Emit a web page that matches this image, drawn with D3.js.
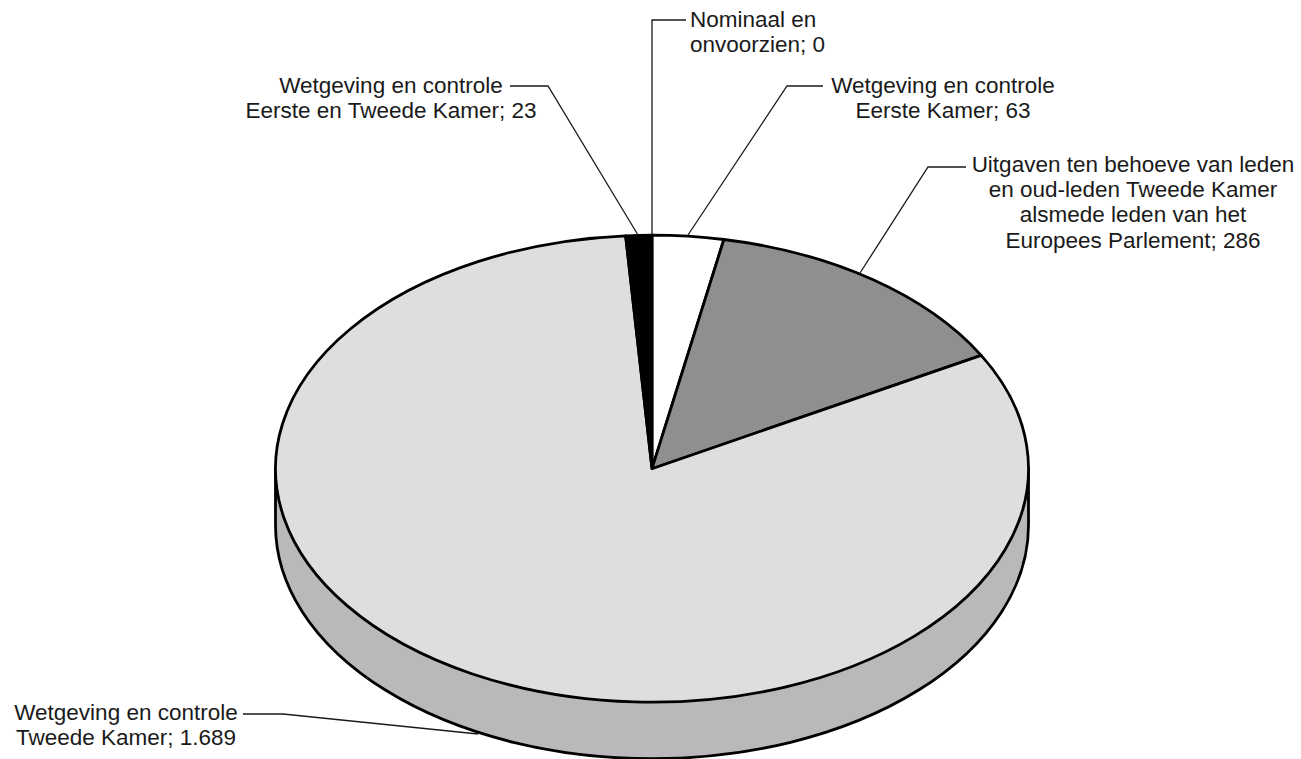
<!DOCTYPE html>
<html>
<head>
<meta charset="utf-8">
<script src="https://cdn.jsdelivr.net/npm/d3@7"></script>
<style>
html, body { margin: 0; padding: 0; background: #fff; }
svg { display: block; }
text { font-family: "Liberation Sans", Arial, sans-serif; font-size: 22.5px; fill: #1a1a1a; }
</style>
</head>
<body>
<div class="content"></div>
<script>
var categories = [
    'Nominaal en onvoorzien',
    'Wetgeving en controle Eerste Kamer',
    'Uitgaven ten behoeve van leden en oud-leden Tweede Kamer alsmede leden van het Europees Parlement',
    'Wetgeving en controle Tweede Kamer',
    'Wetgeving en controle Eerste en Tweede Kamer'
];
var values = [0, 63, 286, 1689, 23];
var labelLines = [
    ['Nominaal en', 'onvoorzien; 0'],
    ['Wetgeving en controle', 'Eerste Kamer; 63'],
    ['Uitgaven ten behoeve van leden', 'en oud-leden Tweede Kamer', 'alsmede leden van het', 'Europees Parlement; 286'],
    ['Wetgeving en controle', 'Tweede Kamer; 1.689'],
    ['Wetgeving en controle', 'Eerste en Tweede Kamer; 23']
];
var sliceColors = ['#ffffff', '#ffffff', '#8e8f91', '#dedee0', '#000000'];

// label placement and leader lines, by hand from the picture
var labelX = [690, 943, 1133, 126, 391];
var labelY = [27, 93, 172, 720, 93];
var labelAnchor = ['start', 'middle', 'middle', 'middle', 'middle'];
var leaders = [
    [[652, 235], [652, 20], [686, 20]],
    [[688, 235], [787, 86], [823, 86]],
    [[860, 273], [928, 167], [966, 167]],
    [[478, 734], [283, 714], [243, 714]],
    [[638, 235], [548, 86], [510, 86]]
];

var width = 1301, height = 759;
var cx = 652, cy = 468.7, rx = 376.5, ry = 233.5, depth = 56.5;

var svg = d3.select('.content').append('svg')
    .attr('width', width)
    .attr('height', height);

// side of the disc
svg.append('path')
    .attr('d', 'M' + (cx - rx) + ',' + cy +
        'L' + (cx - rx) + ',' + (cy + depth) +
        'A' + rx + ',' + ry + ' 0 0 0 ' + (cx + rx) + ',' + (cy + depth) +
        'L' + (cx + rx) + ',' + cy + 'Z')
    .style('fill', '#b9b9bb')
    .style('stroke', 'black')
    .style('stroke-width', '2.8px');

var pie = d3.pie().sort(null).value(function(d) { return d; });
var arc = d3.arc().innerRadius(0).outerRadius(rx);

var disc = svg.append('g')
    .attr('transform', 'translate(' + cx + ',' + cy + ') scale(1,' + (ry / rx) + ')');
disc.selectAll('path')
    .data(pie(values))
    .enter().append('path')
    .attr('d', arc)
    .style('fill', function(d, i) { return sliceColors[i]; })
    .style('stroke', 'black')
    .style('stroke-width', '2.8px')
    .style('stroke-linejoin', 'round')
    .style('vector-effect', 'non-scaling-stroke');

var line = d3.line();
svg.selectAll('.leader')
    .data(leaders)
    .enter().append('path')
    .attr('class', 'leader')
    .attr('d', line)
    .style('fill', 'none')
    .style('stroke', '#1a1a1a')
    .style('stroke-width', '1.3px');

var labels = svg.selectAll('.label')
    .data(labelLines)
    .enter().append('text')
    .attr('class', 'label')
    .attr('y', function(d, i) { return labelY[i]; })
    .style('text-anchor', function(d, i) { return labelAnchor[i]; });
labels.selectAll('tspan')
    .data(function(d, i) { return d.map(function(t) { return { t: t, x: labelX[i] }; }); })
    .enter().append('tspan')
    .attr('x', function(d) { return d.x; })
    .attr('dy', function(d, i) { return i ? 25.2 : 0; })
    .text(function(d) { return d.t; });
</script>
</body>
</html>
